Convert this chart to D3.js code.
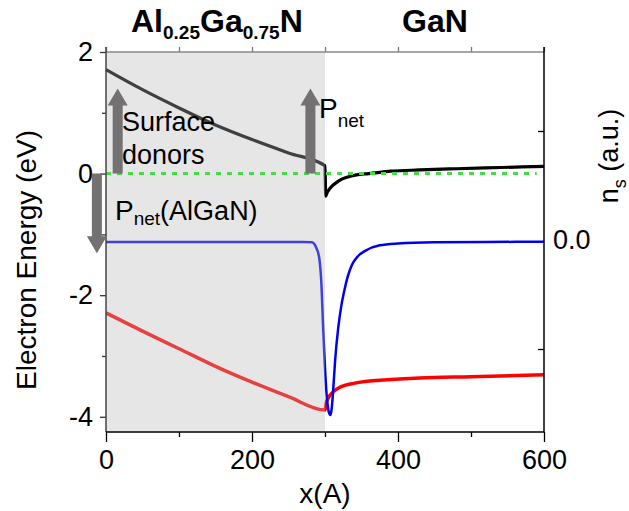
<!DOCTYPE html>
<html>
<head>
<meta charset="utf-8">
<script src="https://cdn.jsdelivr.net/npm/d3@7"></script>
<style>
  body { margin: 0; background: #fff; }
  text { font-family: "Liberation Sans", Arial, sans-serif; }
</style>
</head>
<body>
<div id="chart"></div>
<script>
// conduction band (black), valence-ish band (red), electron density (blue)
const cbX = [0, 50, 100, 150, 200, 250, 300, 301, 303, 307, 313, 320, 330, 343, 360, 390, 430, 480, 540, 600];
const cbE = [1.71, 1.38, 1.08, 0.80, 0.56, 0.34, 0.13, -0.37, -0.31, -0.24, -0.17, -0.11, -0.06, -0.02, 0.0, 0.04, 0.06, 0.08, 0.10, 0.12];

const vbX = [0, 50, 100, 150, 200, 250, 300, 302, 305, 308, 312, 318, 328, 339, 355, 375, 430, 500, 600];
const vbE = [-2.29, -2.59, -2.88, -3.17, -3.43, -3.67, -3.89, -3.76, -3.68, -3.63, -3.58, -3.53, -3.48, -3.45, -3.42, -3.40, -3.36, -3.34, -3.31];

const nsX = [0, 270, 282, 288, 292, 295, 297.5, 300, 302, 304, 306, 307.5, 309, 311, 314, 318, 322, 326, 331, 337, 345, 355, 375, 400, 450, 520, 600];
const nsE = [-1.125, -1.125, -1.13, -1.22, -1.38, -1.8, -2.55, -3.2, -3.6, -3.84, -3.95, -3.97, -3.88, -3.6, -3.05, -2.55, -2.2, -1.95, -1.7, -1.5, -1.36, -1.27, -1.18, -1.15, -1.13, -1.125, -1.12];

// Fermi level (green dotted)
const efX = [0, 590];
const efE = [0, 0];

// AlGaN barrier extent
const barrier = [0, 300];

// polarisation / donor arrows: x, from, to
const arrowX = [16, 280, -12.5];
const arrowFrom = [0, 0, 0];
const arrowTo = [1.40, 1.40, -1.31];

const xMajor = [0, 200, 400, 600];
const xMinor = [100, 300, 500];
const xTop = [0, 100, 200, 300, 400, 500, 600];
const yMajor = [-4, -2, 0, 2];
const yMinor = [-3, -1, 1];
const nsMajor = [0];
const nsMinor = [-1, 1];

const W = 629, H = 511;
const svg = d3.select('#chart').append('svg')
  .attr('width', W).attr('height', H)
  .style('background', '#fff');

const x = d3.scaleLinear().domain([0, 600]).range([106, 544]);
const y = d3.scaleLinear().domain([-4.25, 2]).range([432, 52]);
const yr = d3.scaleLinear().domain([-1, 1]).range([349, 131]);

const zip = (a, b) => a.map((v, i) => [v, b[i]]);
const line = d3.line().x(d => x(d[0])).y(d => y(d[1])).curve(d3.curveMonotoneX);
const plain = d => `${d}`; // keep ascii hyphen for negatives

// curves
svg.append('path').datum(zip(vbX, vbE))
  .attr('d', line).attr('fill', 'none')
  .attr('stroke', '#ff0000').attr('stroke-width', 3.5);
svg.append('path').datum(zip(nsX, nsE))
  .attr('d', line).attr('fill', 'none')
  .attr('stroke', '#0000ee').attr('stroke-width', 2.5);
svg.append('path').datum(zip(cbX, cbE))
  .attr('d', line).attr('fill', 'none')
  .attr('stroke', '#000').attr('stroke-width', 3.2);

// translucent gray over the barrier
svg.append('rect')
  .attr('x', x(barrier[0])).attr('y', y(2))
  .attr('width', x(barrier[1]) - x(barrier[0]))
  .attr('height', y(-4.25) - y(2))
  .attr('fill', '#b8b8b8').attr('opacity', 0.35);

// Fermi level
svg.append('path').datum(zip(efX, efE))
  .attr('d', d3.line().x(d => x(d[0])).y(d => y(d[1])))
  .attr('fill', 'none').attr('stroke', '#44dd44')
  .attr('stroke-width', 3).attr('stroke-dasharray', '5,6');

// axes
const fs = '27px';
const gl = svg.append('g').attr('transform', `translate(${x(0)},0)`);
gl.call(d3.axisLeft(y).tickValues(yMajor).tickSize(6).tickPadding(7).tickFormat(plain));
gl.call(g => g.select('.domain').remove());
gl.selectAll('text').style('font-size', fs).attr('fill', '#000');
gl.append('g').call(d3.axisLeft(y).tickValues(yMinor).tickSize(4).tickFormat(''))
  .call(g => g.select('.domain').remove());
gl.selectAll('line').attr('stroke', '#333').attr('stroke-width', 1.3);

const gb = svg.append('g').attr('transform', `translate(0,${y(-4.25)})`);
gb.call(d3.axisBottom(x).tickValues(xMajor).tickSize(10).tickPadding(8).tickFormat(plain));
gb.call(g => g.select('.domain').remove());
gb.selectAll('text').style('font-size', fs).attr('fill', '#000');
gb.append('g').call(d3.axisBottom(x).tickValues(xMinor).tickSize(5).tickFormat(''))
  .call(g => g.select('.domain').remove());
gb.selectAll('line').attr('stroke', '#000').attr('stroke-width', 1.3);

const gt = svg.append('g').attr('transform', `translate(0,${y(2)})`);
gt.call(d3.axisTop(x).tickValues(xTop).tickSize(5).tickFormat(''));
gt.call(g => g.select('.domain').remove());
gt.selectAll('line').attr('stroke', '#777').attr('stroke-width', 1.3);

const gr = svg.append('g').attr('transform', `translate(${x(600)},0)`);
gr.call(d3.axisLeft(yr).tickValues(nsMinor).tickSize(6).tickFormat(''));
gr.call(g => g.select('.domain').remove());
gr.append('g').call(d3.axisRight(yr).tickValues(nsMajor).tickSize(0).tickPadding(9).tickFormat(d3.format('.1f')))
  .call(g => g.select('.domain').remove());
gr.selectAll('text').style('font-size', fs).attr('fill', '#000');
gr.selectAll('line').attr('stroke', '#000').attr('stroke-width', 1.3);

// frame
svg.append('line').attr('x1', x(0)).attr('x2', x(600)).attr('y1', y(2)).attr('y2', y(2))
  .attr('stroke', '#888').attr('stroke-width', 1.5);
svg.append('line').attr('x1', x(0)).attr('x2', x(0)).attr('y1', y(2) - 5).attr('y2', y(-4.25))
  .attr('stroke', '#444').attr('stroke-width', 1.5);
svg.append('line').attr('x1', x(600)).attr('x2', x(600)).attr('y1', y(2) - 5).attr('y2', y(-4.25))
  .attr('stroke', '#000').attr('stroke-width', 1.5);
svg.append('line').attr('x1', x(0)).attr('x2', x(600)).attr('y1', y(-4.25)).attr('y2', y(-4.25))
  .attr('stroke', '#000').attr('stroke-width', 1.5);

// arrows
const shaft = 10, head = 20, headLen = 17;
arrowX.forEach((xv, i) => {
  const cx = x(xv), y0 = y(arrowFrom[i]), y1 = y(arrowTo[i]);
  const dir = y1 < y0 ? 1 : -1;          // 1 = pointing up
  const yb = y1 + dir * headLen;
  const pts = [
    [cx - shaft / 2, y0], [cx - shaft / 2, yb], [cx - head / 2, yb],
    [cx, y1], [cx + head / 2, yb], [cx + shaft / 2, yb], [cx + shaft / 2, y0]
  ];
  svg.append('polygon')
    .attr('points', pts.map(p => p.join(',')).join(' '))
    .attr('fill', '#737171');
});

// annotations
const ann = svg.append('g').attr('fill', '#000').style('font-size', '27px');
ann.append('text').attr('x', 122).attr('y', 131).text('Surface');
ann.append('text').attr('x', 122).attr('y', 164).text('donors');

const pnet = ann.append('text').attr('x', 319).attr('y', 118);
pnet.append('tspan').style('font-size', '28px').text('P');
pnet.append('tspan').attr('dy', 9).style('font-size', '19px').text('net');

const pal = ann.append('text').attr('x', 115).attr('y', 220);
pal.append('tspan').style('font-size', '28px').text('P');
pal.append('tspan').attr('dy', 5).style('font-size', '19px').text('net');
pal.append('tspan').attr('dy', -5).style('font-size', '27px').text('(AlGaN)');

// region titles
const t1 = svg.append('text').attr('x', 131).attr('y', 32)
  .style('font-size', '32px').style('font-weight', 'bold');
t1.append('tspan').text('Al');
t1.append('tspan').attr('dy', 7).style('font-size', '19px').text('0.25');
t1.append('tspan').attr('dy', -7).text('Ga');
t1.append('tspan').attr('dy', 7).style('font-size', '19px').text('0.75');
t1.append('tspan').attr('dy', -7).text('N');

svg.append('text').attr('x', 435).attr('y', 32).attr('text-anchor', 'middle')
  .style('font-size', '32px').style('font-weight', 'bold').text('GaN');

// axis titles
svg.append('text').attr('x', 325).attr('y', 503).attr('text-anchor', 'middle')
  .style('font-size', '28px').text('x(A)');

svg.append('text').attr('transform', 'translate(36,260) rotate(-90)')
  .attr('text-anchor', 'middle').style('font-size', '28px').text('Electron Energy (eV)');

const rl = svg.append('text').attr('transform', 'translate(618,156) rotate(-90)')
  .attr('text-anchor', 'middle').style('font-size', '27px');
rl.append('tspan').text('n');
rl.append('tspan').attr('dy', 8).style('font-size', '18px').text('s');
rl.append('tspan').attr('dy', -8).text(' (a.u.)');
</script>
</body>
</html>
